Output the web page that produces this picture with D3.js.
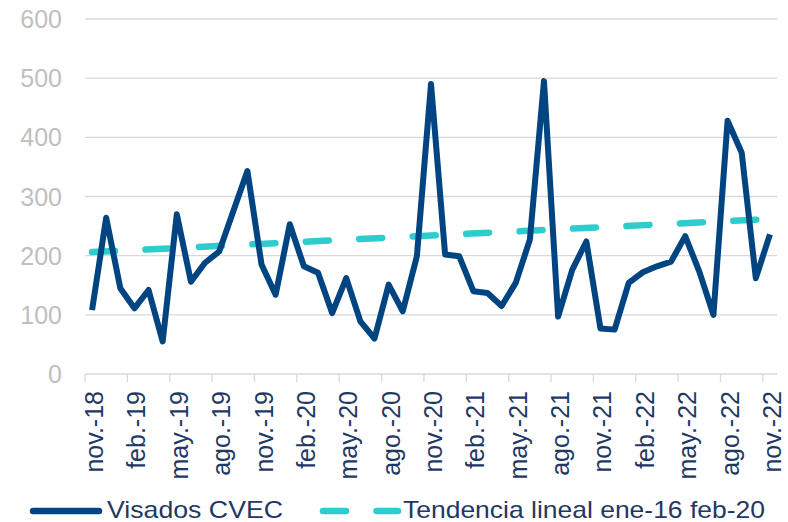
<!DOCTYPE html>
<html>
<head>
<meta charset="utf-8">
<script src="https://cdn.jsdelivr.net/npm/d3@7"></script>
<style>
    body { margin: 0; background: #fff; }
    svg { display: block; font-family: "Liberation Sans", Arial, sans-serif; }
</style>
</head>
<body>
<script>
// Months on the category axis
var months = [
    "nov.-18", "dic.-18",
    "ene.-19", "feb.-19", "mar.-19", "abr.-19", "may.-19", "jun.-19",
    "jul.-19", "ago.-19", "sep.-19", "oct.-19", "nov.-19", "dic.-19",
    "ene.-20", "feb.-20", "mar.-20", "abr.-20", "may.-20", "jun.-20",
    "jul.-20", "ago.-20", "sep.-20", "oct.-20", "nov.-20", "dic.-20",
    "ene.-21", "feb.-21", "mar.-21", "abr.-21", "may.-21", "jun.-21",
    "jul.-21", "ago.-21", "sep.-21", "oct.-21", "nov.-21", "dic.-21",
    "ene.-22", "feb.-22", "mar.-22", "abr.-22", "may.-22", "jun.-22",
    "jul.-22", "ago.-22", "sep.-22", "oct.-22", "nov.-22"
];

// Visados CVEC, one value per month
var visados = [
    108, 264,
    145, 111, 142, 55, 270, 156,
    188, 207, 275, 343, 185, 134,
    253, 182, 171, 103, 162, 89,
    60, 151, 106, 199, 490, 202,
    199, 140, 137, 115, 154, 227,
    495, 97, 176, 224, 77, 75,
    154, 172, 182, 190, 233, 173,
    100, 428, 374, 162, 236
];

// Linear trend read at first and last month
var trendMonths = ["nov.-18", "nov.-22"];
var trendValues = [206, 262];

var yTicks = [0, 100, 200, 300, 400, 500, 600];

var seriesNames = ["Visados CVEC", "Tendencia lineal ene-16 feb-20"];

var width = 788, height = 522;
var navy = "#004481", aqua = "#2dcccd", grid = "#d9d9d9";

var svg = d3.select("body").append("svg")
    .attr("width", width)
    .attr("height", height);

var x = d3.scaleBand()
    .domain(months)
    .range([85, 777])
    .padding(0);

var y = d3.scaleLinear()
    .domain([0, 600])
    .range([374, 19]);

var cx = function(m){ return x(m) + x.bandwidth() / 2; };

// Gridlines
svg.append("g").selectAll("line")
    .data(yTicks)
    .enter().append("line")
    .attr("x1", 85).attr("x2", 777)
    .attr("y1", d => y(d)).attr("y2", d => y(d))
    .attr("stroke", grid)
    .attr("stroke-width", 1.3);

// Y labels
svg.append("g").selectAll("text")
    .data(yTicks)
    .enter().append("text")
    .attr("x", 62)
    .attr("y", d => y(d))
    .attr("dy", "0.36em")
    .attr("text-anchor", "end")
    .attr("font-size", 25)
    .attr("fill", "#bfbfbf")
    .text(d => d);

// X ticks every 3 months on category boundaries
var labelled = months.filter(function(m, i){ return i % 3 === 0; });
svg.append("g").selectAll("line")
    .data(labelled)
    .enter().append("line")
    .attr("x1", d => x(d)).attr("x2", d => x(d))
    .attr("y1", 374).attr("y2", 382)
    .attr("stroke", grid)
    .attr("stroke-width", 1.3);

svg.append("g").selectAll("text")
    .data(labelled)
    .enter().append("text")
    .attr("transform", d => "translate(" + cx(d) + ",391) rotate(-90)")
    .attr("dy", "0.44em")
    .attr("text-anchor", "end")
    .attr("font-size", 25)
    .attr("fill", "#1f3864")
    .text(d => d);

// Trend line
svg.append("line")
    .attr("x1", cx(trendMonths[0])).attr("y1", y(trendValues[0]))
    .attr("x2", cx(trendMonths[1])).attr("y2", y(trendValues[1]))
    .attr("stroke", aqua)
    .attr("stroke-width", 6.5)
    .attr("stroke-linecap", "round")
    .attr("stroke-dasharray", "23 30.5");

// Main series
var line = d3.line()
    .x((d, i) => cx(months[i]))
    .y(d => y(d));

svg.append("path")
    .datum(visados)
    .attr("d", line)
    .attr("fill", "none")
    .attr("stroke", navy)
    .attr("stroke-width", 6)
    .attr("stroke-linejoin", "round");

// Legend
var legend = svg.append("g");
legend.append("line")
    .attr("x1", 33).attr("x2", 99)
    .attr("y1", 511).attr("y2", 511)
    .attr("stroke", navy)
    .attr("stroke-width", 6.5)
    .attr("stroke-linecap", "round");
legend.append("text")
    .attr("x", 107).attr("y", 518)
    .attr("font-size", 24)
    .attr("fill", "#1f3864")
    .attr("textLength", 176)
    .attr("lengthAdjust", "spacingAndGlyphs")
    .text(seriesNames[0]);

legend.append("line")
    .attr("x1", 323).attr("x2", 398)
    .attr("y1", 511).attr("y2", 511)
    .attr("stroke", aqua)
    .attr("stroke-width", 6.5)
    .attr("stroke-linecap", "round")
    .attr("stroke-dasharray", "23 30.5");
legend.append("text")
    .attr("x", 403).attr("y", 518)
    .attr("font-size", 24)
    .attr("fill", "#1f3864")
    .attr("textLength", 362)
    .attr("lengthAdjust", "spacingAndGlyphs")
    .text(seriesNames[1]);
</script>
</body>
</html>
